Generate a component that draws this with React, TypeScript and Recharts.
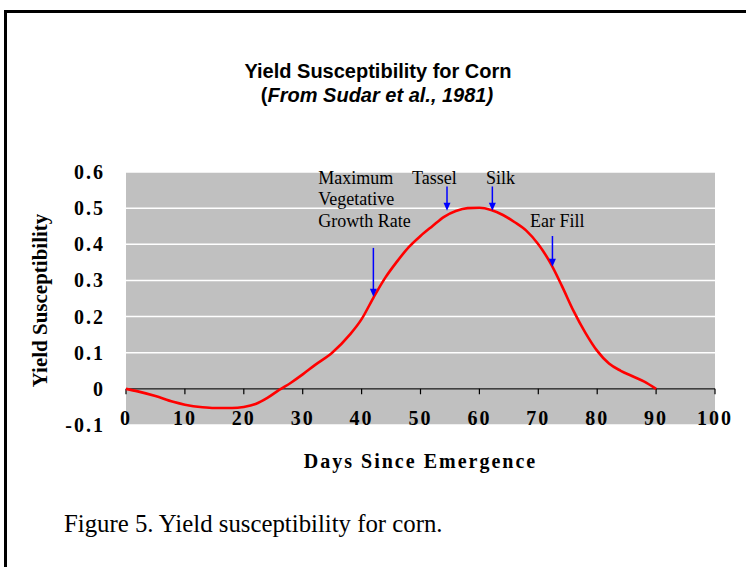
import React from 'react';
import { LineChart, Line, XAxis, YAxis, CartesianGrid, ReferenceLine, ReferenceDot } from 'recharts';

const days = [0, 2, 5, 8, 10, 13, 15, 18, 20, 22, 24, 26, 28, 30, 32, 35, 38, 40, 42, 44, 46, 48, 50, 52, 54, 56, 58, 60, 62, 64, 66, 68, 70, 72, 74, 76, 78, 80, 82, 84, 86, 88, 90];
const susceptibility = [0, -0.007, -0.02, -0.036, -0.044, -0.051, -0.053, -0.053, -0.05, -0.042, -0.025, -0.003, 0.017, 0.04, 0.065, 0.1, 0.15, 0.193, 0.252, 0.307, 0.352, 0.392, 0.423, 0.45, 0.476, 0.492, 0.5, 0.501, 0.495, 0.481, 0.461, 0.437, 0.4, 0.35, 0.285, 0.215, 0.155, 0.105, 0.07, 0.05, 0.035, 0.02, 0];
const xTicks = [0, 10, 20, 30, 40, 50, 60, 70, 80, 90, 100];
const yTicks = [-0.1, 0, 0.1, 0.2, 0.3, 0.4, 0.5, 0.6];

const annotations = [
  { lines: ['Maximum', 'Vegetative', 'Growth Rate'], day: 32.65, value: 0.567 },
  { lines: ['Tassel'], day: 48.55, value: 0.567 },
  { lines: ['Silk'], day: 61.1, value: 0.567 },
  { lines: ['Ear Fill'], day: 68.6, value: 0.449 },
];
const arrows = [
  { day: 42, from: 0.39, to: 0.255 },
  { day: 54.5, from: 0.56, to: 0.493 },
  { day: 62.2, from: 0.56, to: 0.493 },
  { day: 72.4, from: 0.423, to: 0.338 },
];

const data = days.map((d, i) => ({ day: d, value: susceptibility[i] }));

const SERIF = '"Liberation Serif", "Times New Roman", serif';
const SANS = '"Liberation Sans", Arial, sans-serif';

const XTick = (props: any) => (
  <text x={props.x} y={props.y} textAnchor="middle" fontFamily={SERIF} fontWeight="bold" fontSize={20} letterSpacing={2} fill="#000">
    {String(props.payload.value)}
  </text>
);

const YTick = (props: any) => {
  const v = props.payload.value;
  const s = v === 0 ? '0' : v.toFixed(1);
  return (
    <text x={props.x} y={props.y} dy={7} textAnchor="end" fontFamily={SERIF} fontWeight="bold" fontSize={20} letterSpacing={2} fill="#000">
      {s}
    </text>
  );
};

const Arrow = (p: any) => {
  const { x1, y1, x2, y2 } = p;
  const headLen = 8;
  const half = 3.5;
  return (
    <g>
      <line x1={x1} y1={y1} x2={x2} y2={y2 - headLen + 1} stroke="#0000ff" strokeWidth={1.5} />
      <polygon points={`${x2 - half},${y2 - headLen} ${x2 + half},${y2 - headLen} ${x2},${y2}`} fill="#0000ff" />
    </g>
  );
};

const makeLabel = (lines: string[]) => (p: any) => (
  <text x={p.cx} y={p.cy} fontFamily={SERIF} fontSize={18} fill="#000">
    {lines.map((l, i) => (
      <tspan key={i} x={p.cx} dy={i === 0 ? 0 : 21.5}>{l}</tspan>
    ))}
  </text>
);

const XLabel = (p: any) => {
  const vb = p.viewBox;
  return (
    <text x={vb.x + vb.width / 2} y={vb.y + 43} textAnchor="middle" fontFamily={SERIF} fontWeight="bold" fontSize={20} letterSpacing={2} fill="#000">
      Days Since Emergence
    </text>
  );
};

const YLabel = (p: any) => {
  const vb = p.viewBox;
  const cx = vb.x - 19.5;
  const cy = vb.y + vb.height / 2 + 2;
  return (
    <text x={cx} y={cy} transform={`rotate(-90 ${cx} ${cy})`} textAnchor="middle" fontFamily={SERIF} fontWeight="bold" fontSize={21} fill="#000">
      Yield Susceptibility
    </text>
  );
};

export default function App() {
  return (
    <div style={{ position: 'absolute', left: 0, top: 0, width: 746, height: 567, overflow: 'hidden', background: '#fff' }}>
      <div style={{ position: 'absolute', left: 4, top: 10, width: 800, height: 700, border: '3px solid #000', boxSizing: 'border-box' }} />
      <svg width={746} height={567} style={{ position: 'absolute', left: 0, top: 0 }}>
        <text x={378} y={78} textAnchor="middle" fontFamily={SANS} fontWeight="bold" fontSize={20} fill="#000">
          Yield Susceptibility for Corn
        </text>
        <text x={377} y={102} textAnchor="middle" fontFamily={SANS} fontWeight="bold" fontSize={20} fill="#000">
          (<tspan fontStyle="italic">From Sudar et al., 1981)</tspan>
        </text>
        <text x={64} y={532} fontFamily={SERIF} fontSize={24.8} fill="#000">
          Figure 5. Yield susceptibility for corn.
        </text>
      </svg>
      <div style={{ position: 'absolute', left: 0, top: 0 }}>
        <LineChart width={746} height={567} data={data} margin={{ top: 172, right: 31, bottom: 112, left: 66 }}>
          <CartesianGrid horizontal vertical={false} fill="#c0c0c0" fillOpacity={1} stroke="#ffffff" strokeWidth={1.5} />
          <XAxis dataKey="day" type="number" domain={[0, 100]} ticks={xTicks} height={30} axisLine={false} tickLine={false} tickSize={0} tickMargin={0} tick={<XTick />} label={<XLabel />} interval={0} />
          <YAxis type="number" domain={[-0.1, 0.6]} ticks={yTicks} width={60} axisLine={false} tickLine={false} tickSize={0} tickMargin={21} tick={<YTick />} label={<YLabel />} interval={0} />
          <ReferenceLine y={0} stroke="#000" strokeWidth={1.3} />
          {xTicks.map((t) => (
            <ReferenceLine key={'t' + t} segment={[{ x: t, y: 0 }, { x: t, y: -0.015 }]} stroke="#000" strokeWidth={1.2} />
          ))}
          <Line type="monotone" dataKey="value" stroke="#ff0000" strokeWidth={2.6} dot={false} isAnimationActive={false} />
          {arrows.map((a, i) => (
            <ReferenceLine key={'a' + i} segment={[{ x: a.day, y: a.from }, { x: a.day, y: a.to }]} shape={Arrow} />
          ))}
          {annotations.map((a, i) => (
            <ReferenceDot key={'n' + i} x={a.day} y={a.value} r={1} shape={makeLabel(a.lines)} />
          ))}
        </LineChart>
      </div>
    </div>
  );
}
